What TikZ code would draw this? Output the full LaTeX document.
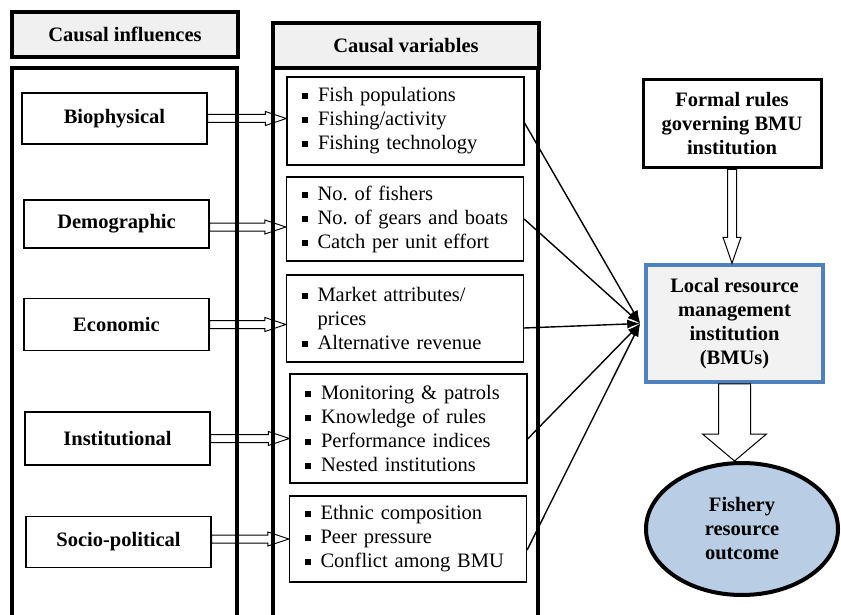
\documentclass[tikz,border=0pt]{standalone}
\usepackage{fontspec}
\setmainfont{Liberation Serif}
\usetikzlibrary{calc,arrows.meta,shapes.geometric}
\definecolor{headgray}{RGB}{240,240,240}
\definecolor{boxgray}{RGB}{242,242,242}
\definecolor{bmublue}{RGB}{79,129,189}
\definecolor{outfill}{RGB}{185,205,229}
\newcommand{\sqb}{\makebox[16pt][l]{\rule[2.5pt]{6pt}{6pt}}}
\newcommand{\sqgap}{\hspace*{16pt}}
\newcommand{\bodyfont}{\fontsize{20.5}{24}\selectfont\frenchspacing}
\tikzset{
  head/.style={draw, line width=3.5pt, fill=headgray, font=\bodyfont\bfseries, minimum height=45pt},
  cause/.style={draw, line width=1.3pt, fill=white, font=\bodyfont\bfseries, minimum width=185pt},
  vars/.style={draw, line width=1.2pt, align=left, inner xsep=15pt, text width=207pt, font=\bodyfont},
  col/.style={line width=3.5pt},
  link/.style={line width=1.4pt, -{Latex[length=13pt,width=9pt]}},
  hollow/.style n args={3}{to path={
    ($(\tikztostart)!#1!90:(\tikztotarget)$)
    -- ($(\tikztotarget)!#3!(\tikztostart) + (\tikztostart)!#1!90:(\tikztotarget) - (\tikztostart)$)
    -- ($(\tikztotarget)!#3!(\tikztostart) + (\tikztostart)!#2!90:(\tikztotarget) - (\tikztostart)$)
    -- (\tikztotarget)
    -- ($(\tikztotarget)!#3!(\tikztostart) + (\tikztostart)!#2!-90:(\tikztotarget) - (\tikztostart)$)
    -- ($(\tikztotarget)!#3!(\tikztostart) + (\tikztostart)!#1!-90:(\tikztotarget) - (\tikztostart)$)
    -- ($(\tikztostart)!#1!-90:(\tikztotarget)$) -- cycle}},
  harrow/.style={draw, fill=white, line width=1pt, hollow={4pt}{7pt}{21pt}}
}
\begin{document}
\begin{tikzpicture}[x=1pt, y=-1pt]
  \useasboundingbox (0,0) rectangle (841,615);
  \node[head, minimum width=226pt] (infhead) at (125,34.5) {Causal influences};
  \node[head, minimum width=266pt] (varhead) at (406,45.5) {Causal variables};

  \node[cause, minimum height=51pt] (bio) at (114.5,118.5) {Biophysical};
  \node[cause, minimum height=48pt] (demo) at (116.5,224) {Demographic};
  \node[cause, minimum height=52pt] (econ) at (116.5,324.5) {Economic};
  \node[cause, minimum height=53pt] (inst) at (117.5,438.5) {Institutional};
  \node[cause, minimum height=51pt] (socio) at (118.5,542) {Socio-political};

  \node[vars, minimum height=88pt] (var1) at (405.5,121)
    {\sqb Fish populations\\ \sqb Fishing/activity\\ \sqb Fishing technology};
  \node[vars, minimum height=84pt] (var2) at (405,219)
    {\sqb No. of fishers\\ \sqb No. of gears and boats\\ \sqb Catch per unit effort};
  \node[vars, minimum height=87pt] (var3) at (405,318.5)
    {\sqb Market attributes/\\ \sqgap prices\\ \sqb Alternative revenue};
  \node[vars, minimum height=109pt] (var4) at (408.5,428.5)
    {\sqb Monitoring \& patrols\\ \sqb Knowledge of rules\\ \sqb Performance indices\\ \sqb Nested institutions};
  \node[vars, minimum height=86pt] (var5) at (408,539)
    {\sqb Ethnic composition\\ \sqb Peer pressure\\ \sqb Conflict among BMU};

  \node[draw, line width=3pt, minimum width=178pt, minimum height=88pt, align=center, font=\bodyfont\bfseries]
    (formal) at (732,124) {Formal rules\\governing BMU\\institution};
  \node[draw=bmublue, line width=3.5pt, fill=boxgray, minimum width=177pt, minimum height=117pt, align=center, font=\bodyfont\bfseries]
    (bmu) at (734.5,323.5) {Local resource\\management\\institution\\(BMUs)};
  \node[ellipse, draw, line width=4pt, fill=outfill, minimum width=192pt, minimum height=132pt, inner sep=0pt, align=center, font=\bodyfont\bfseries]
    (fish) at (742,529) {Fishery\\resource\\outcome};
  \coordinate (hub) at ([xshift=-4pt]bmu.west);

  \begin{scope}
    \draw[harrow] (bio.east) to (bio.east -| var1.west);
    \draw[harrow] ([yshift=-3pt]demo.east) to ([yshift=-3pt]demo.east -| var2.west);
    \draw[harrow] (econ.east) to (econ.east -| var3.west);
    \draw[harrow] (inst.east) to (inst.east -| var4.west);
    \draw[harrow] ([yshift=3pt]socio.east) to ([yshift=3pt]socio.east -| var5.west);
    \draw[draw, fill=white, line width=1pt, hollow={4.5pt}{9pt}{26pt}] (formal.south) to (formal.south |- bmu.north);
    \draw[draw, fill=white, line width=1pt, hollow={16pt}{32pt}{27pt}] (bmu.south) to (bmu.south |- fish.north);
  \end{scope}

  \draw[col] (12,620) |- (237,68) -- (237,620);
  \draw[col] (273,620) |- (538,68) -- (538,620);

  \begin{scope}
    \draw[link] ([yshift=-2pt]var1.east) to (hub);
    \draw[link] (var2.east) to (hub);
    \draw[link] ([yshift=-9.5pt]var3.east) to (hub);
    \draw[link] ([yshift=-10.5pt]var4.east) to (hub);
    \draw[link] ([yshift=-11pt]var5.east) to (hub);
  \end{scope}
\end{tikzpicture}
\end{document}
